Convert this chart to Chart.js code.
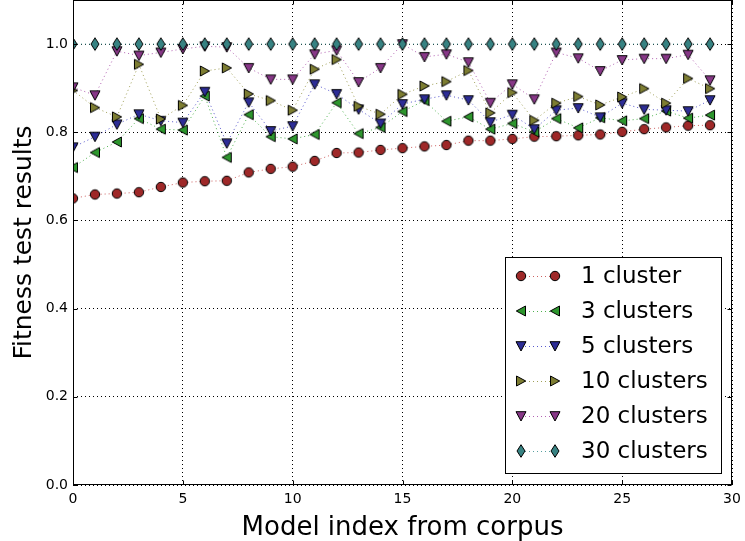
<!DOCTYPE html>
<html>
<head>
<meta charset="utf-8">
<script src="https://cdn.jsdelivr.net/npm/chart.js@4.4.1/dist/chart.umd.min.js"></script>
<style>
  html, body { margin: 0; padding: 0; background: #fff; }
</style>
</head>
<body>
<canvas id="fitnessChart" width="745" height="541"></canvas>
<script>
// モデル番号 (x軸)
const modelIndex = [0, 1, 2, 3, 4, 5, 6, 7, 8, 9, 10, 11, 12, 13, 14, 15, 16, 17, 18, 19, 20, 21, 22, 23, 24, 25, 26, 27, 28, 29];

// クラスタ数ごとの結果
const cluster1 = [0.650, 0.659, 0.661, 0.664, 0.676, 0.686, 0.689, 0.690, 0.709, 0.717, 0.722, 0.735, 0.753, 0.754, 0.760, 0.764, 0.768, 0.771, 0.781, 0.781, 0.785, 0.790, 0.791, 0.793, 0.795, 0.801, 0.807, 0.811, 0.815, 0.816];
const cluster3 = [0.720, 0.754, 0.778, 0.831, 0.807, 0.805, 0.882, 0.743, 0.840, 0.790, 0.785, 0.795, 0.867, 0.797, 0.811, 0.847, 0.872, 0.825, 0.835, 0.807, 0.820, 0.801, 0.831, 0.810, 0.833, 0.826, 0.831, 0.848, 0.832, 0.839];
const cluster5 = [0.766, 0.790, 0.818, 0.841, 0.826, 0.822, 0.892, 0.775, 0.868, 0.803, 0.814, 0.909, 0.887, 0.852, 0.820, 0.864, 0.875, 0.884, 0.873, 0.823, 0.840, 0.807, 0.850, 0.855, 0.834, 0.866, 0.852, 0.850, 0.848, 0.873];
const cluster10 = [0.895, 0.856, 0.835, 0.954, 0.830, 0.861, 0.939, 0.946, 0.887, 0.872, 0.850, 0.943, 0.965, 0.859, 0.841, 0.886, 0.905, 0.915, 0.940, 0.844, 0.890, 0.827, 0.866, 0.881, 0.862, 0.880, 0.899, 0.866, 0.922, 0.899];
const cluster20 = [0.902, 0.884, 0.984, 0.974, 0.981, 0.989, 0.995, 0.993, 0.946, 0.920, 0.920, 0.977, 0.986, 0.914, 0.946, 1.000, 0.971, 0.977, 0.959, 0.867, 0.909, 0.875, 0.981, 0.968, 0.939, 0.964, 0.967, 0.967, 0.976, 0.918];
const cluster30 = [1.0, 1.0, 1.0, 1.0, 1.0, 1.0, 1.0, 1.0, 1.0, 1.0, 1.0, 1.0, 1.0, 1.0, 1.0, 1.0, 1.0, 1.0, 1.0, 1.0, 1.0, 1.0, 1.0, 1.0, 1.0, 1.0, 1.0, 1.0, 1.0, 1.0];

const seriesLabels = ['1 cluster', '3 clusters', '5 clusters', '10 clusters', '20 clusters', '30 clusters'];
const seriesValues = [cluster1, cluster3, cluster5, cluster10, cluster20, cluster30];
const markerShapes = ['circle', 'left', 'down', 'right', 'down', 'diamond'];
const fillColors = ['rgb(158, 40, 40)', 'rgb(45, 150, 45)', 'rgb(45, 45, 150)', 'rgb(125, 125, 50)', 'rgb(135, 55, 135)', 'rgb(55, 130, 130)'];
const lineColors = ['rgba(200, 80, 80, 0.9)', 'rgba(60, 170, 60, 0.9)', 'rgba(70, 70, 200, 0.9)', 'rgba(150, 150, 70, 0.9)', 'rgba(170, 80, 170, 0.9)', 'rgba(70, 150, 150, 0.9)'];

const xTicks = [0, 5, 10, 15, 20, 25, 30];
const yTicks = [0.0, 0.2, 0.4, 0.6, 0.8, 1.0];

const FONT = 'DejaVu Sans';

// マーカー画像の作成
function makeMarker(shape, fill) {
  const c = document.createElement('canvas');
  c.width = 16;
  c.height = 16;
  const g = c.getContext('2d');
  g.translate(8, 8);
  g.beginPath();
  if (shape === 'circle') {
    g.arc(0, 0, 4.7, 0, Math.PI * 2);
  } else if (shape === 'down') {
    g.moveTo(-5, -4.3); g.lineTo(5, -4.3); g.lineTo(0, 5);
  } else if (shape === 'left') {
    g.moveTo(-4.7, 0); g.lineTo(4.5, -5); g.lineTo(4.5, 5);
  } else if (shape === 'right') {
    g.moveTo(4.7, 0); g.lineTo(-4.5, -5); g.lineTo(-4.5, 5);
  } else {
    g.moveTo(0, -6.3); g.lineTo(4, 0); g.lineTo(0, 6.3); g.lineTo(-4, 0);
  }
  g.closePath();
  g.fillStyle = fill;
  g.fill();
  g.lineWidth = 1;
  g.strokeStyle = '#000';
  g.stroke();
  return c;
}

const markers = markerShapes.map((s, i) => makeMarker(s, fillColors[i]));

const datasets = seriesValues.map((vals, i) => ({
  label: seriesLabels[i],
  data: vals.map((v, k) => ({ x: modelIndex[k], y: v })),
  borderColor: lineColors[i],
  borderWidth: 1,
  borderDash: [1, 3],
  pointStyle: markers[i],
  pointRadius: 5,
  pointHoverRadius: 5,
  fill: false,
  clip: 0,
  order: seriesValues.length - i,
}));

// 凡例（グラフ内右下）と外枠・内向き目盛り
const frameLegend = {
  id: 'frameLegend',
  afterDraw(chart) {
    const ctx = chart.ctx;
    const a = chart.chartArea;
    const sx = chart.scales.x, sy = chart.scales.y;
    ctx.save();

    // 凡例
    const bx = 505, by = 257, bw = 216, bh = 216;
    ctx.fillStyle = '#fff';
    ctx.fillRect(bx, by, bw, bh);
    ctx.strokeStyle = '#000';
    ctx.lineWidth = 1;
    ctx.strokeRect(bx + 0.5, by + 0.5, bw, bh);
    ctx.font = '23px "' + FONT + '"';
    ctx.textBaseline = 'middle';
    ctx.textAlign = 'left';
    for (let i = 0; i < seriesLabels.length; i++) {
      const y = 276 + i * 35;
      ctx.setLineDash([1, 3]);
      ctx.strokeStyle = lineColors[i];
      ctx.beginPath();
      ctx.moveTo(521, y + 0.5);
      ctx.lineTo(555, y + 0.5);
      ctx.stroke();
      ctx.setLineDash([]);
      ctx.drawImage(markers[i], 521 - 8, y - 8);
      ctx.drawImage(markers[i], 555 - 8, y - 8);
      ctx.fillStyle = '#000';
      ctx.fillText(seriesLabels[i], 581, y + 1);
    }

    // 外枠
    const L = Math.round(a.left) + 0.5, T = Math.round(a.top) + 0.5;
    const R = Math.round(a.right) - 0.5, B = Math.round(a.bottom) - 0.5;
    ctx.strokeStyle = '#000';
    ctx.lineWidth = 1;
    ctx.strokeRect(L, T, R - L, B - T);

    // 内向きの目盛り
    ctx.beginPath();
    xTicks.forEach(v => {
      const px = Math.round(sx.getPixelForValue(v)) + 0.5;
      ctx.moveTo(px, B); ctx.lineTo(px, B - 4);
      ctx.moveTo(px, T); ctx.lineTo(px, T + 4);
    });
    yTicks.forEach(v => {
      const py = Math.round(sy.getPixelForValue(v)) + 0.5;
      ctx.moveTo(L, py); ctx.lineTo(L + 4, py);
      ctx.moveTo(R, py); ctx.lineTo(R - 4, py);
    });
    ctx.stroke();
    ctx.restore();
  }
};

const ctx = document.getElementById('fitnessChart').getContext('2d');
window.fitnessChart = new Chart(ctx, {
  type: 'line',
  data: { datasets: datasets },
  plugins: [frameLegend],
  options: {
    responsive: false,
    animation: false,
    events: [],
    layout: { autoPadding: false, padding: { top: 0, right: 13, left: 0, bottom: 0 } },
    plugins: {
      legend: { display: false },
      tooltip: { enabled: false },
    },
    scales: {
      x: {
        type: 'linear',
        min: 0,
        max: 30,
        afterBuildTicks: s => { s.ticks = xTicks.map(v => ({ value: v })); },
        afterFit: s => { s.height = 56; s.paddingLeft = 0; s.paddingRight = 0; },
        ticks: {
          color: '#000',
          font: { family: FONT, size: 14 },
          padding: 6,
          maxRotation: 0,
        },
        grid: { color: '#000', lineWidth: 1, drawTicks: false },
        border: { display: false, dash: [1, 3] },
        title: {
          display: true,
          text: 'Model index from corpus',
          color: '#000',
          font: { family: FONT, size: 26, lineHeight: 1.0 },
          padding: { top: 0, bottom: 0 },
        },
      },
      y: {
        min: 0,
        max: 1.1,
        afterBuildTicks: s => { s.ticks = yTicks.map(v => ({ value: v })); },
        afterFit: s => { s.width = 73; s.paddingTop = 0; s.paddingBottom = 0; },
        ticks: {
          color: '#000',
          font: { family: FONT, size: 14 },
          padding: 5,
          callback: v => v.toFixed(1),
        },
        grid: { color: '#000', lineWidth: 1, drawTicks: false },
        border: { display: false, dash: [1, 3] },
        title: {
          display: true,
          text: 'Fitness test results',
          color: '#000',
          font: { family: FONT, size: 25 },
          padding: { top: 9, bottom: 0 },
        },
      },
    },
  },
});
</script>
</body>
</html>
